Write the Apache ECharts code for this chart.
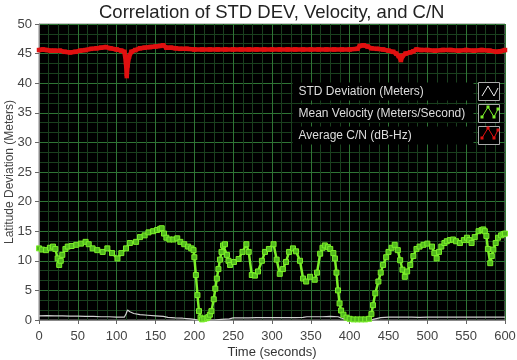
<!DOCTYPE html>
<html>
<head>
<meta charset="utf-8">
<script src="https://cdn.jsdelivr.net/npm/echarts@6/dist/echarts.min.js"></script>
<style>html,body{margin:0;padding:0;background:#fff;}#c{width:517px;height:360px;}</style>
</head>
<body>
<div id="c"></div>
<script>
const titleText = 'Correlation of STD DEV, Velocity, and C/N';
const xName = 'Time (seconds)';
const yName = 'Latitude Deviation (Meters)';
const seriesNames = ['STD Deviation (Meters)', 'Mean Velocity (Meters/Second)', 'Average C/N (dB-Hz)'];

const stdTime = [0,10,20,30,40,50,60,70,80,90,100,110,112,114,117,122,130,140,150,160,166,175,185,195,200,205,215,225,235,245,250,260,270,280,290,300,310,320,330,340,345,355,365,375,385,390,395,400,420,430,440,450,460,470,480,490,500,510,520,530,540,550,560,570,580,590,600];
const stdDev = [0.7,0.75,0.7,0.7,0.65,0.65,0.6,0.6,0.55,0.55,0.5,0.5,1.0,1.7,1.4,1.1,0.9,0.8,0.7,0.6,0.45,0.35,0.3,0.2,0.1,0.0,0.0,0.0,0.1,0.2,0.35,0.35,0.35,0.4,0.4,0.4,0.4,0.4,0.4,0.45,0.55,0.55,0.55,0.6,0.55,0.3,0.1,0.0,0.0,0.1,0.4,0.5,0.5,0.5,0.5,0.45,0.5,0.5,0.5,0.5,0.5,0.5,0.5,0.5,0.5,0.5,0.5];

const velTime = [0,4,9,14,18,21,24,26,28,30,34,37,42,48,54,60,64,69,75,82,88,94,101,106,112,117,125,130,136,141,147,152,156,158,161,164,168,173,178,182,187,192,196,199,200,202,204,206,208,210,213,216,218,220,222,225,227,229,231,233,235,237,239.5,242,244,246,251,257,262,267,270,274,278,282,287,291,296,302,306,310,314,318,322,327,331,336,340,344,349,355,358,362,365,368,372,375,379,381,383,385,387,389,392,396,400,405,410,415,420,425,428,430,433,437,440,443,447,450,454,458,462,465,468,471,474,478,482,486,490,495,500,506,509,512,515,518,522,525,529,533,537,542,547,551,554,557,561,566,570,572,574,576,578,581,583,585,588,591,595,598,600];
const velocity = [12.1,11.9,11.8,12.2,12.4,12.0,10.4,9.3,10.0,11.0,12.0,12.4,12.5,12.7,12.9,13.2,12.8,12.1,11.8,11.5,12.1,11.3,10.4,11.3,12.1,13.0,13.2,14.0,14.3,14.8,15.0,15.2,15.4,15.5,14.6,13.9,13.6,13.6,13.8,13.2,12.8,12.4,12.1,11.8,10.6,7.6,4.2,1.5,0.4,0.1,0.2,0.3,0.5,0.9,1.5,3.5,5.3,7.0,8.6,10.2,11.5,12.6,12.8,11.0,10.0,9.3,9.8,10.3,11.5,12.8,11.5,7.6,7.5,8.2,10.0,11.5,12.0,12.8,10.2,7.8,8.6,9.8,11.5,12.1,11.6,10.0,7.0,6.5,7.3,6.8,8.0,11.2,12.2,12.6,12.3,12.0,11.3,10.4,8.0,5.0,2.8,1.6,0.9,0.4,0.2,0.1,0.1,0.1,0.1,0.2,1.0,2.5,4.5,6.5,8.0,9.3,10.6,11.5,12.2,12.7,11.8,10.1,8.5,7.3,8.2,9.3,10.8,12.0,12.4,12.7,12.9,12.4,11.3,10.4,11.5,12.4,13.0,13.3,13.5,13.6,13.3,13.0,13.5,13.9,13.5,13.0,14.0,15.0,15.2,15.3,15.0,14.2,12.0,9.6,10.8,11.9,13.0,13.9,14.3,14.5,14.6];

const cnTime = [0,5,10,15,20,27,33,40,47,53,60,67,74,80,86,92,100,106,110,112,113,114,116,119,124,130,136,143,150,156,160,164,170,176,182,190,200,210,220,230,240,250,260,270,280,290,300,310,320,330,340,350,360,370,380,390,400,410,413,418,423,428,435,443,450,456,460,463,466,468,472,478,482,486,492,500,510,520,530,540,550,560,570,580,589,594,600];
const cn = [45.6,45.7,45.6,45.5,45.5,45.5,45.3,45.2,45.3,45.5,45.6,45.8,45.9,46.0,46.1,45.9,45.7,45.5,45.3,43.5,41.2,43.0,44.5,45.3,45.6,45.9,46.0,46.1,46.2,46.3,46.4,46.0,46.0,45.9,45.8,45.8,45.7,45.7,45.7,45.7,45.7,45.7,45.7,45.7,45.7,45.7,45.7,45.7,45.7,45.7,45.7,45.7,45.7,45.7,45.7,45.7,45.7,45.8,46.3,46.4,46.2,45.9,45.8,45.7,45.5,45.3,45.0,44.6,43.9,44.6,45.0,45.2,45.4,45.7,45.6,45.6,45.5,45.6,45.6,45.5,45.6,45.5,45.6,45.5,45.3,45.4,45.6];

const xTicks = {min: 0, max: 600, step: 50};
const yTicks = {min: 0, max: 50, step: 5};

function pairs(ts, vs) { return ts.map((t, i) => [t, vs[i]]); }

const FONT = 'Liberation Sans';
const chart = echarts.init(document.getElementById('c'), null, {renderer: 'canvas'});

// legend zigzag glyphs (decoration only)
const lgBoxX = 479, lgBoxY0 = 82, lgStep = 21;
function zig(i, color, withMarks) {
  const y = lgBoxY0 + i * lgStep;
  const pts = [[lgBoxX + 3, y + 14], [lgBoxX + 9, y + 4], [lgBoxX + 15, y + 14], [lgBoxX + 19, y + 6]];
  const els = [{type: 'polyline', shape: {points: pts}, style: {stroke: color, lineWidth: 1, fill: null}, z: 100}];
  if (withMarks) pts.forEach(p => els.push({type: 'rect', shape: {x: p[0] - 1.5, y: p[1] - 1.5, width: 3, height: 3}, style: {fill: color}, z: 101}));
  return els;
}

const option = {
  animation: false,
  backgroundColor: '#fff',
  title: {
    text: titleText, left: 99, top: 3, padding: 0,
    textStyle: {fontFamily: FONT, fontSize: 18.5, fontWeight: 'normal', color: '#222'}
  },
  legend: {
    orient: 'vertical', right: 17, top: 82, padding: 0, itemGap: 3, itemWidth: 21, itemHeight: 18, align: 'right',
    selectedMode: false,
    formatter: n => '{t|' + n + '}',
    data: [
      {name: seriesNames[0], icon: 'rect', itemStyle: {color: '#000', borderColor: '#aaa', borderWidth: 1}},
      {name: seriesNames[1], icon: 'rect', itemStyle: {color: '#000', borderColor: '#aaa', borderWidth: 1}},
      {name: seriesNames[2], icon: 'rect', itemStyle: {color: '#000', borderColor: '#aaa', borderWidth: 1}}
    ],
    textStyle: {
      fontFamily: FONT, fontSize: 12, color: '#ddd',
      rich: {t: {fontFamily: FONT, fontSize: 12, color: '#ddd', width: 172, height: 16, align: 'left', backgroundColor: '#000', padding: [1, 3, 1, 6]}}
    }
  },
  grid: {left: 39, right: 12, top: 24, bottom: 40, outerBoundsMode: 'none', containLabel: false, show: true, backgroundColor: '#000', borderColor: '#888', borderWidth: 1},
  xAxis: {
    type: 'value', min: xTicks.min, max: xTicks.max, interval: xTicks.step,
    name: xName, nameLocation: 'middle', nameGap: 26, nameMoveOverlap: false,
    nameTextStyle: {fontFamily: FONT, fontSize: 13, color: '#333'},
    axisLine: {show: true, lineStyle: {color: '#888'}},
    axisTick: {show: true, length: 4, lineStyle: {color: '#666'}},
    axisLabel: {fontFamily: FONT, fontSize: 13, color: '#444', margin: 10},
    splitLine: {show: true, lineStyle: {color: '#2f7535', width: 1}},
    minorTick: {show: false, splitNumber: 4},
    minorSplitLine: {show: true, lineStyle: {color: '#1a401e', width: 1}}
  },
  yAxis: {
    type: 'value', min: yTicks.min, max: yTicks.max, interval: yTicks.step,
    name: yName, nameLocation: 'middle', nameGap: 23, nameMoveOverlap: false,
    nameTextStyle: {fontFamily: FONT, fontSize: 12, color: '#444'},
    axisLine: {show: true, lineStyle: {color: '#888'}},
    axisTick: {show: true, length: 4, lineStyle: {color: '#666'}},
    axisLabel: {fontFamily: FONT, fontSize: 13, color: '#444', margin: 7},
    splitLine: {show: true, lineStyle: {color: '#2f7535', width: 1}},
    minorTick: {show: false, splitNumber: 3},
    minorSplitLine: {show: true, lineStyle: {color: '#1a401e', width: 1}}
  },
  graphic: [].concat(zig(0, '#eee', false), zig(1, '#7cf02a', true), zig(2, '#e01010', true)),
  series: [
    {
      name: seriesNames[0], type: 'line', data: pairs(stdTime, stdDev), showSymbol: false,
      color: '#ddd', lineStyle: {color: '#d0d0d0', width: 1.2}, z: 3
    },
    {
      name: seriesNames[2], type: 'line', data: pairs(cnTime, cn), symbol: 'rect', symbolSize: 4.5,
      color: '#e01010', itemStyle: {color: '#e01010'}, lineStyle: {color: '#e01010', width: 4.5}, z: 4
    },
    {
      name: seriesNames[1], type: 'line', data: pairs(velTime, velocity), symbol: 'rect', symbolSize: 5,
      color: '#7cf02a', itemStyle: {color: '#52b81e', borderColor: '#7cf02a', borderWidth: 1},
      lineStyle: {color: '#7cf02a', width: 2.5}, z: 5
    }
  ]
};
chart.setOption(option);
</script>
</body>
</html>
